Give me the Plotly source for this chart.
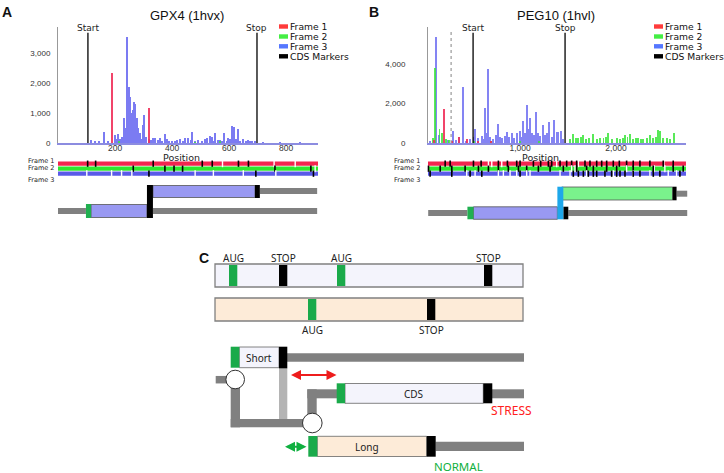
import plotly.graph_objects as go

W, H = 724, 473
def fx(p): return p / W
def fy(p): return 1 - p / H

# ------------------------------------------------------------------ data
A_title = "GPX4 (1hvx)"
B_title = "PEG10 (1hvl)"
frame_names = ["Frame 1", "Frame 2", "Frame 3", "CDS Markers"]

# Panel A histogram (position, reads)
A_f1_pos = [188, 320]
A_f1_val = [2343, 1156]
A_f2_pos = [215, 480, 569]
A_f2_val = [40, 30, 60]
A_f3_pos = [116, 130, 145, 162, 175, 200, 205, 212, 218, 223, 230, 236, 240, 243, 246, 249, 252,
            254, 257, 260, 263, 266, 268, 271, 274, 276, 279, 282, 285, 288, 292, 298, 303, 310,
            318, 325, 333, 341, 350, 358, 366, 375, 382, 390, 400, 410, 418, 428, 437, 446, 457,
            465, 471, 480, 493, 505, 515, 522, 533, 539, 545, 551, 560, 569, 576, 584, 592, 598,
            605, 612, 616, 619, 626, 633, 640, 650, 660, 668, 675, 680, 690, 720, 780, 850]
A_f3_val = [90, 60, 50, 356, 80, 267, 150, 289, 120, 211, 844, 300, 500, 3544, 1200, 1878, 900,
            1544, 1000, 711, 1100, 600, 1356, 1289, 700, 822, 400, 489, 250, 322, 150, 600, 933, 200,
            120, 100, 180, 156, 90, 156, 70, 289, 120, 60, 80, 50, 110, 133, 60, 156, 156,
            90, 378, 70, 100, 60, 120, 178, 244, 211, 80, 322, 90, 100, 70, 322, 80, 156,
            120, 578, 300, 544, 120, 467, 80, 133, 60, 100, 50, 67, 40, 15, 20, 15]
A_start, A_stop = 105, 698
A_xticks = [200, 400, 600, 800]
A_yticks = [0, 1000, 2000, 3000]

# Panel B histogram
B_f1_pos = [100, 208, 290, 368, 444, 560, 700]
B_f1_val = [150, 1722, 120, 287, 203, 100, 80]
B_f2_pos = [97, 115, 160, 184, 230, 260, 520, 700, 1000, 1200,
            1520, 1556, 1580, 1608, 1635, 1660, 1690, 1720, 1764, 1800, 1833, 1870, 1900, 1920,
            1960, 2007, 2040, 2070, 2094, 2120, 2146, 2180, 2210, 2233, 2260, 2285, 2320, 2354,
            2390, 2420, 2441, 2458, 2490, 2528, 2560, 2604]
B_f2_val = [253, 3781, 709, 506, 200, 150, 100, 80, 120, 100,
            200, 439, 250, 236, 300, 405, 200, 250, 439, 200, 236, 250, 300, 490,
            200, 236, 200, 250, 405, 300, 439, 200, 250, 270, 200, 203, 250, 405,
            250, 300, 641, 608, 250, 236, 200, 490]
B_f3_pos = [60, 125, 150, 250, 299, 330, 368, 403, 440, 480, 520, 531, 560, 600, 620, 635, 650,
            670, 690, 720, 745, 767, 790, 815, 840, 861, 885, 913, 940, 972, 1000, 1020, 1035,
            1055, 1076, 1090, 1104, 1125, 1145, 1167, 1190, 1210, 1236, 1260, 1285, 1306, 1330,
            1358, 1382, 1399, 1424, 1445]
B_f3_val = [100, 5384, 400, 150, 608, 150, 321, 2852, 100, 200, 300, 709, 250, 350, 200, 1755, 500,
            3747, 300, 200, 400, 942, 300, 250, 350, 574, 300, 490, 250, 490, 608, 300, 1111,
            500, 1924, 700, 1249, 500, 400, 1587, 500, 350, 912, 400, 500, 1046, 321,
            1165, 574, 540, 608, 200]
B_start, B_stop = 510, 1469
B_dotted = 281
B_xticks = [1000, 2000]
B_yticks = [0, 2000, 4000]

# Frame tracks: AUG (black) and stop codons (white gaps)
A_f1_aug = [104, 132, 334, 506, 541, 633, 668]
A_f1_stop = [577, 758, 832]
A_f2_aug = [264, 375, 407, 437, 761, 887]
A_f2_stop = [902]
A_f3_aug = [319, 694, 896]
A_f3_stop = [101, 188, 223, 259, 481, 545, 650, 764]

B_f1_aug = [219, 271, 514, 594, 774, 868, 965, 1000, 1139, 1215, 1295, 1330, 1417, 1486, 1538,
            1590, 1677, 1729, 1799, 1851, 1903, 1972, 2035, 2111, 2180, 2250, 2354, 2493, 2597]
B_f1_stop = [670, 705, 809, 1382, 1608, 2500]
B_f2_aug = [45, 167, 288, 427, 566, 670, 774, 878, 983, 1069, 1191, 1313, 1451, 1590, 1694,
            1764, 1903, 2007, 2180, 2389, 2597, 2701]
B_f2_stop = [1538, 1573, 2111, 2400, 2510]
B_f3_aug = [62, 288, 479, 601, 1000, 1555, 1608, 1660, 1712, 1764, 1799, 1885, 1955, 2007,
            2042, 2094, 2180, 2250, 2389, 2458, 2667]
B_f3_stop = [444, 531, 774, 826, 896, 965, 1069, 1104, 1417, 1521, 1694, 1972, 2180, 2354,
             2545, 2632]

# Gene models (nucleotide positions)
A_len = 909
A_uorf = [98, 116, 312]        # AUG start, body start, body end
A_shift = [312, 333]           # shared stop / shift codon
A_cds = [333, 691, 708]        # body start, stop start, stop end
B_len = 2743
B_lower_left = 42
B_uorf = [451, 514, 1389]
B_shift = [1389, 1451]
B_lower_stop = [1451, 1503]
B_cds = [1434, 2591, 2632]

# Panel C (schematic units)
C_box_span = [215, 523]
C_top_aug = [229, 337]
C_top_stop = [279, 484]
C_bot_aug = [308]
C_bot_stop = [427]

# ------------------------------------------------------------------ styles
RED, GREEN, BLUE = "#f0305a", "#3de63d", "#5b5bef"
ROW_RED, ROW_GREEN, ROW_BLUE = "#f2264f", "#2ee82e", "#5a5ae8"
LEG_COLORS = ["#ff3b3b", "#44ee44", "#5577ff", "#000000"]
CG = "#1aaa4a"   # panel C green
GRAY = "#808080"
LFONT = "Liberation Sans"
DFONT = "DejaVu Sans"
NFONT = "Noto Sans"

fig = go.Figure()
shapes, annos = [], []

def bars(xs, ys, color, w, xa, ya, op):
    fig.add_trace(go.Bar(x=xs, y=ys, width=[w] * len(xs), marker=dict(color=color, line=dict(width=0)),
                         opacity=op, xaxis=xa, yaxis=ya, showlegend=False, hoverinfo="skip"))

# histograms
bars(A_f3_pos, A_f3_val, BLUE, 4, "x", "y", 0.8)
bars(A_f2_pos, A_f2_val, GREEN, 4, "x", "y", 0.85)
bars(A_f1_pos, A_f1_val, RED, 4, "x", "y", 0.9)
bars(B_f3_pos, B_f3_val, BLUE, 10, "x3", "y3", 0.75)
bars(B_f2_pos, B_f2_val, GREEN, 10, "x3", "y3", 0.85)
bars(B_f1_pos, B_f1_val, RED, 10, "x3", "y3", 0.9)

for xa, pos in [("x", A_start), ("x", A_stop), ("x3", B_start), ("x3", B_stop)]:
    ya = "y" if xa == "x" else "y3"
    shapes.append(dict(type="line", xref=xa, yref=ya + " domain", x0=pos, x1=pos, y0=0, y1=0.95,
                       line=dict(color="black", width=1.3)))
shapes.append(dict(type="line", xref="x3", yref="y3 domain", x0=B_dotted, x1=B_dotted, y0=0, y1=0.98,
                   line=dict(color="#999999", width=1.2, dash="dot")))

# Start/Stop labels
for xa, pos, t in [("x", A_start, "Start"), ("x", A_stop, "Stop"), ("x3", B_start, "Start"), ("x3", B_stop, "Stop")]:
    annos.append(dict(x=pos, y=fy(28.3), xref=xa, yref="paper", text=t, showarrow=False, borderpad=0,
                      font=dict(family=DFONT, size=9, color="#222"), xanchor="center", yanchor="middle"))

# frame tracks
row_y = [163.7, 168.7, 173.7]
row_h = 4.3
def tracks(xa, ya, length, x0, augs, stops):
    for i, (col, au, st) in enumerate(zip([ROW_RED, ROW_GREEN, ROW_BLUE], augs, stops)):
        yc = row_y[i]
        shapes.append(dict(type="rect", xref=xa, yref=ya, x0=x0, x1=length, y0=yc - row_h / 2, y1=yc + row_h / 2,
                           fillcolor=col, line=dict(width=0), layer="below"))
        fig.add_trace(go.Scatter(x=st, y=[yc] * len(st), mode="markers", xaxis=xa, yaxis=ya,
                                 marker=dict(symbol="line-ns", size=5, line=dict(color="white", width=1.4)),
                                 showlegend=False, hoverinfo="skip", cliponaxis=False))
        fig.add_trace(go.Scatter(x=au, y=[yc] * len(au), mode="markers", xaxis=xa, yaxis=ya,
                                 marker=dict(symbol="line-ns", size=4.5, line=dict(color="black", width=1.6)),
                                 showlegend=False, hoverinfo="skip", cliponaxis=False))

tracks("x2", "y2", 912, 0, [A_f1_aug, A_f2_aug, A_f3_aug], [A_f1_stop, A_f2_stop, A_f3_stop])
tracks("x4", "y4", 2730, 40, [B_f1_aug, B_f2_aug, B_f3_aug], [B_f1_stop, B_f2_stop, B_f3_stop])

def rect(xa, ya, x0, x1, y0, y1, fill, lw=0.8, lc="#555555"):
    shapes.append(dict(type="rect", xref=xa, yref=ya, x0=x0, x1=x1, y0=y0, y1=y1, fillcolor=fill,
                       line=dict(width=lw, color=lc)))

def line_bar(xa, ya, x0, x1, yc, th, col=GRAY):
    shapes.append(dict(type="rect", xref=xa, yref=ya, x0=x0, x1=x1, y0=yc - th / 2, y1=yc + th / 2,
                       fillcolor=col, line=dict(width=0)))

# gene model A
line_bar("x2", "y2", A_cds[2], A_len, 191, 6)
line_bar("x2", "y2", 0, A_uorf[0], 211, 6)
line_bar("x2", "y2", A_shift[1], A_len, 211, 6)
rect("x2", "y2", A_cds[0], A_cds[1], 185.5, 197.5, "#9999f2")
rect("x2", "y2", A_cds[1], A_cds[2], 185, 198, "black", 0)
rect("x2", "y2", A_uorf[1], A_uorf[2], 204.5, 217.5, "#9999f2")
rect("x2", "y2", A_uorf[0], A_uorf[1], 204, 218, "#20b050", 0)
rect("x2", "y2", A_shift[0], A_shift[1], 185, 218, "black", 0)

# gene model B
line_bar("x4", "y4", B_cds[2], B_len, 193.7, 6)
line_bar("x4", "y4", B_lower_left, B_uorf[0], 213, 6)
line_bar("x4", "y4", B_lower_stop[1], B_len, 213, 6)
rect("x4", "y4", B_cds[0], B_cds[1], 187, 200, "#7af28c")
rect("x4", "y4", B_cds[1], B_cds[2], 186.7, 200.3, "black", 0)
rect("x4", "y4", B_uorf[1], B_uorf[2], 206.8, 219.3, "#9999f2")
rect("x4", "y4", B_uorf[0], B_uorf[1], 206.7, 219.3, "#20b050", 0)
rect("x4", "y4", B_lower_stop[0], B_lower_stop[1], 206.7, 219.3, "black", 0)
rect("x4", "y4", B_shift[0], B_shift[1], 186.7, 219.3, "#1ea7ea", 0)

# ------------------------------------------------------------------ panel C
cw = 8.3
rect("x5", "y5", C_box_span[0], C_box_span[1], 264, 287, "#f4f4fc", 1.3, "#808080")
rect("x5", "y5", C_box_span[0], C_box_span[1], 298, 321, "#fdebd8", 1.3, "#808080")
def clabel(x, y, t):
    annos.append(dict(x=x, y=y, xref="x5", yref="y5", text=t, showarrow=False, xanchor="center",
                      yanchor="middle", font=dict(family=NFONT, size=10, color="#222")))
for p in C_top_aug:
    rect("x5", "y5", p, p + cw, 265, 286, CG, 0)
    clabel(p + cw / 2, 257.5, "AUG")
for p in C_top_stop:
    rect("x5", "y5", p, p + cw, 265, 286, "black", 0)
    clabel(p + cw / 2, 257.5, "STOP")
for p in C_bot_aug:
    rect("x5", "y5", p, p + cw, 299, 320, CG, 0)
    clabel(p + cw / 2, 329.5, "AUG")
for p in C_bot_stop:
    rect("x5", "y5", p, p + cw, 299, 320, "black", 0)
    clabel(p + cw / 2, 329.5, "STOP")

# scanning model
line_bar("x5", "y5", 287, 524, 357.5, 8.3)                       # after short
line_bar("x5", "y5", 215.7, 230, 379.7, 7.5)                     # left stub
rect("x5", "y5", 230.7, 240, 379.5, 427.3, GRAY, 0)              # down from circle 1
rect("x5", "y5", 230.7, 305, 419, 427.3, GRAY, 0)                # bottom horizontal
rect("x5", "y5", 279, 287.3, 368, 419, "#b4b4b4", 0)             # light gray
rect("x5", "y5", 307.3, 316.7, 389.3, 423, GRAY, 0)              # up from circle 2
rect("x5", "y5", 307.3, 337, 389.3, 398.3, GRAY, 0)              # to CDS
line_bar("x5", "y5", 492, 524, 393.8, 9)                          # after CDS
line_bar("x5", "y5", 435.5, 524, 446.4, 9.3)                      # after long

rect("x5", "y5", 239.3, 279, 347, 367.7, "#f4f4fc", 0.8, "#666")
rect("x5", "y5", 230.7, 239.3, 346.7, 367.7, CG, 0)
rect("x5", "y5", 279, 287.3, 346.7, 368.3, "black", 0)
rect("x5", "y5", 345, 483.3, 383.5, 403.3, "#f4f4fc", 0.8, "#666")
rect("x5", "y5", 336.7, 345, 383.3, 403.3, CG, 0)
rect("x5", "y5", 483.3, 492.3, 383.3, 403.3, "black", 0)
rect("x5", "y5", 317.3, 426.7, 436.3, 456.5, "#fdebd8", 0.8, "#666")
rect("x5", "y5", 308.3, 317.3, 436, 456.7, CG, 0)
rect("x5", "y5", 426.7, 435.7, 436, 456.7, "black", 0)

for cx, cy, r in [(235.2, 379.5, 9.3), (312.3, 423, 9.8)]:
    shapes.append(dict(type="circle", xref="x5", yref="y5", x0=cx - r, x1=cx + r, y0=cy - r, y1=cy + r,
                       fillcolor="white", line=dict(color="#333", width=1)))

for t, x, y in [("Short", 259, 357.5), ("CDS", 413.5, 393.5), ("Long", 367, 446.5)]:
    clabel(x, y, t)
annos.append(dict(x=511.5, y=410, xref="x5", yref="y5", text="STRESS", showarrow=False, xanchor="center",
                  yanchor="middle", font=dict(family=NFONT, size=12, color="#ff2020")))
annos.append(dict(x=458, y=466, xref="x5", yref="y5", text="NORMAL", showarrow=False, xanchor="center",
                  yanchor="middle", borderpad=0, font=dict(family=NFONT, size=11.5, color="#10b040")))
for x0, x1, y, col in [(289.5, 336.5, 375, "#ee1c1c"), (283.5, 306.5, 446.7, "#10b040")]:
    annos.append(dict(x=x1, y=y, ax=x0, ay=y, xref="x5", yref="y5", axref="x5", ayref="y5", text="",
                      showarrow=True, arrowhead=2, startarrowhead=2, arrowside="end+start",
                      arrowsize=1, startarrowsize=1, arrowwidth=2, arrowcolor=col, standoff=0, startstandoff=0))

# ------------------------------------------------------------------ titles, labels, legends
def ptext(x, y, t, family, size, xanchor="center", color="#111"):
    annos.append(dict(x=fx(x), y=fy(y), xref="paper", yref="paper", text=t, showarrow=False, borderpad=0,
                      xanchor=xanchor, yanchor="middle", font=dict(family=family, size=size, color=color)))

ptext(187, 15.3, A_title, LFONT, 13)
ptext(556, 15.3, B_title, LFONT, 13)
ptext(1, 12.5, "<b>A</b>", LFONT, 14, "left")
ptext(368, 12.5, "<b>B</b>", LFONT, 14, "left")
ptext(198, 258, "<b>C</b>", LFONT, 14, "left")
ptext(181, 157.3, "Position", DFONT, 9.5, color="#222")
ptext(540, 157.3, "Position", DFONT, 9.5, color="#222")
for xr in [55, 420.5]:
    for name, yy in zip(frame_names[:3], [161.2, 168.2, 180]):
        ptext(xr, yy, name, DFONT, 6.5, "right", "#222")
for sx in [279, 654]:
    for name, col, yy in zip(frame_names, LEG_COLORS, [26.5, 36.5, 46.3, 56.3]):
        shapes.append(dict(type="rect", xref="paper", yref="paper", x0=fx(sx), x1=fx(sx + 9),
                           y0=fy(yy + 2.2), y1=fy(yy - 2.2), fillcolor=col, line=dict(width=0)))
        ptext(sx + 10, yy + 0.3, name, DFONT, 9.2, "left")

tickfont = dict(family=LFONT, size=8, color="#333")
hide = dict(visible=False, showgrid=False, zeroline=False, fixedrange=True)
fig.update_layout(
    width=W, height=H, margin=dict(l=0, r=0, t=0, b=0, autoexpand=False), paper_bgcolor="white",
    plot_bgcolor="rgba(0,0,0,0)", barmode="overlay", bargap=0, showlegend=False,
    xaxis=dict(domain=[fx(58), fx(318)], range=[0, 912], anchor="y", tickvals=A_xticks, ticks="",
               showgrid=False, zeroline=False, showline=True, linecolor="#8c8ce0", linewidth=1.5,
               tickfont=dict(family=LFONT, size=8.5, color="#333"), ticklabelstandoff=-4),
    yaxis=dict(domain=[fy(143), fy(27)], range=[0, 3870], anchor="x", tickvals=A_yticks, tickformat=",",
               ticks="", showgrid=False, zeroline=False, showline=True, linecolor="#999", linewidth=1,
               tickfont=tickfont, ticklabelstandoff=5),
    xaxis3=dict(domain=[fx(428), fx(686)], range=[40, 2730], anchor="y3", tickvals=B_xticks, tickformat=",",
                ticks="", showgrid=False, zeroline=False, showline=True, linecolor="#8c8ce0", linewidth=1.5,
                tickfont=dict(family=LFONT, size=8.5, color="#333"), ticklabelstandoff=-4),
    yaxis3=dict(domain=[fy(143), fy(27)], range=[0, 5870], anchor="x3", tickvals=B_yticks, tickformat=",",
                ticks="", showgrid=False, zeroline=False, showline=True, linecolor="#999", linewidth=1,
                tickfont=tickfont, ticklabelstandoff=20),
    xaxis2=dict(domain=[fx(58), fx(320)], range=[0, 919], anchor="y2", **hide),
    yaxis2=dict(domain=[fy(225), fy(158)], range=[225, 158], anchor="x2", **hide),
    xaxis4=dict(domain=[fx(428), fx(690)], range=[40, 2772], anchor="y4", **hide),
    yaxis4=dict(domain=[fy(225), fy(158)], range=[225, 158], anchor="x4", **hide),
    xaxis5=dict(domain=[fx(200), fx(540)], range=[200, 540], anchor="y5", **hide),
    yaxis5=dict(domain=[0, fy(235)], range=[473, 235], anchor="x5", **hide),
    shapes=shapes, annotations=annos,
)
fig.add_trace(go.Scatter(x=[], y=[], xaxis="x5", yaxis="y5", showlegend=False))
fig.write_html("out.html", config={"displayModeBar": False},
               post_script="document.body.style.margin='0';document.body.style.overflow='hidden';")
